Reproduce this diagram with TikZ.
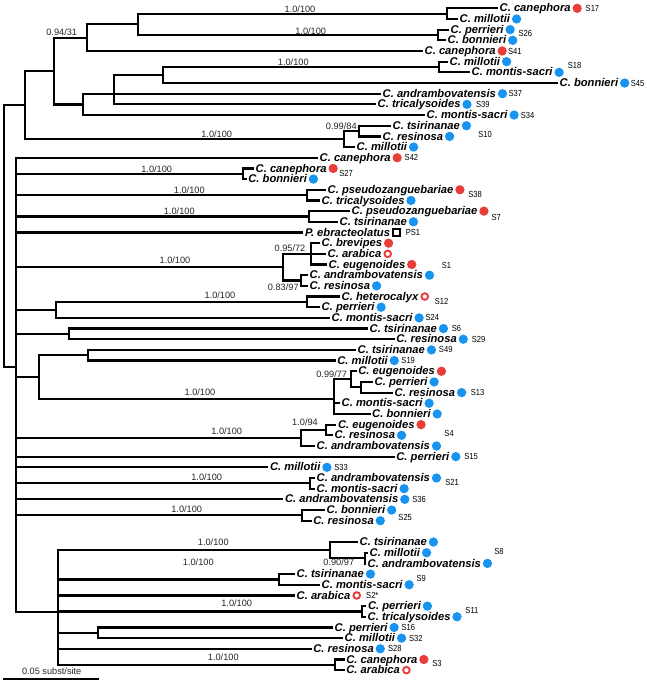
\documentclass[tikz,border=0pt]{standalone}
\usepackage{fontspec}
\setmainfont{Liberation Sans}
\definecolor{cblue}{RGB}{22,148,240}
\definecolor{cred}{RGB}{232,62,58}
\tikzset{
 br/.style={line width=2.2pt, line join=miter},
 lab/.style={anchor=base west, inner sep=0pt, xshift=1.5pt, font=\fontsize{11.2}{12}\selectfont\bfseries\itshape},
 bdot/.style={circle, fill=cblue, inner sep=0pt, minimum size=9.3pt},
 rdot/.style={circle, fill=cred, inner sep=0pt, minimum size=9.3pt},
 rring/.style={circle, draw=cred, fill=white, line width=1.9pt, inner sep=0pt, minimum size=6.6pt},
 bsq/.style={rectangle, draw=black, fill=white, line width=1.9pt, inner sep=0pt, minimum size=7pt},
 stag/.style={anchor=west, inner sep=0pt, xscale=0.86, font=\fontsize{8.8}{10}\selectfont},
 suplab/.style={inner sep=0pt, text=black!85, font=\fontsize{9.2}{10}\selectfont},
}
\newcommand\leaf[5]{%
  \coordinate (#1) at (#2,{8.3+10.675*#3});
  \node[lab] (#1-t) at ([yshift=-3.6pt]#1) {#4};
  \path (#1-t.east |- #1) ++(6.3pt,0pt) node[#5] (#1-m) {};
}
\newcommand\slab[4]{%
  \path (#1-m.center) ++(#2pt,#3pt) node[stag] (#1-s) {#4};
}
\newcommand\E[2]{\draw[br] (#1) |- (#2);}
\begin{document}
\begin{tikzpicture}[x=1pt,y=-1pt]
\useasboundingbox (0,0) rectangle (647,683);
% internal nodes
\coordinate (R) at (4,236);
\coordinate (A) at (25,105);
\coordinate (A1) at (54.3,71.0);
\coordinate (A11) at (86.7,37.66);
\coordinate (A111) at (137.7,24.31);
\coordinate (n1) at (447,13.64);
\coordinate (n2) at (438,34.99);
\coordinate (A12) at (82.7,104.4);
\coordinate (A121) at (114.3,93.7);
\coordinate (n3) at (162.7,75.02);
\coordinate (n4) at (439,67.01);
\coordinate (A2) at (344,139.07);
\coordinate (n5) at (359,131.06);
\coordinate (B) at (16,367);
\coordinate (c16) at (242.7,173.76);
\coordinate (c18) at (306.7,195.11);
\coordinate (c20) at (309.3,216.46);
\coordinate (c23) at (282.7,267.17);
\coordinate (c23a) at (310.7,253.825);
\coordinate (c23b) at (301,280.51);
\coordinate (c28) at (56,309.87);
\coordinate (c28a) at (307,301.86);
\coordinate (c31) at (69,333.89);
\coordinate (c33) at (39,377.03);
\coordinate (c33a) at (87.7,355.24);
\coordinate (c33b) at (334.3,398.83);
\coordinate (c33b1) at (350.7,379.26);
\coordinate (c33b1a) at (361,387.26);
\coordinate (c40) at (301,437.97);
\coordinate (c40a) at (325.7,429.96);
\coordinate (c45) at (310,483.34);
\coordinate (c48) at (301.7,515.36);
\coordinate (c50) at (58.3,611.82);
\coordinate (c50a) at (330.3,550.06);
\coordinate (c50a1) at (364.7,558.06);
\coordinate (c50b) at (279.3,579.41);
\coordinate (c50d) at (362.3,611.44);
\coordinate (c50e) at (98.3,632.79);
\coordinate (c50g) at (334.7,664.81);
% leaves
\leaf{L1}{498}{0}{C. canephora}{rdot}
\leaf{L2}{458}{1}{C. millotii}{bdot}
\leaf{L3}{449}{2}{C. perrieri}{bdot}
\leaf{L4}{446}{3}{C. bonnieri}{bdot}
\leaf{L5}{423}{4}{C. canephora}{rdot}
\leaf{L6}{448}{5}{C. millotii}{bdot}
\leaf{L7}{470}{6}{C. montis-sacri}{bdot}
\leaf{L8}{558}{7}{C. bonnieri}{bdot}
\leaf{L9}{381}{8}{C. andrambovatensis}{bdot}
\leaf{L10}{376}{9}{C. tricalysoides}{bdot}
\leaf{L11}{425}{10}{C. montis-sacri}{bdot}
\leaf{L12}{391}{11}{C. tsirinanae}{bdot}
\leaf{L13}{381}{12}{C. resinosa}{bdot}
\leaf{L14}{355}{13}{C. millotii}{bdot}
\leaf{L15}{318}{14}{C. canephora}{rdot}
\leaf{L16}{254}{15}{C. canephora}{rdot}
\leaf{L17}{246.7}{16}{C. bonnieri}{bdot}
\leaf{L18}{326}{17}{C. pseudozanguebariae}{rdot}
\leaf{L19}{320}{18}{C. tricalysoides}{bdot}
\leaf{L20}{350}{19}{C. pseudozanguebariae}{rdot}
\leaf{L21}{338}{20}{C. tsirinanae}{bdot}
\leaf{L22}{303.3}{21}{P. ebracteolatus}{bsq}
\leaf{L23}{320}{22}{C. brevipes}{rdot}
\leaf{L24}{326}{23}{C. arabica}{rring}
\leaf{L25}{327}{24}{C. eugenoides}{rdot}
\leaf{L26}{308}{25}{C. andrambovatensis}{bdot}
\leaf{L27}{308}{26}{C. resinosa}{bdot}
\leaf{L28}{340}{27}{C. heterocalyx}{rring}
\leaf{L29}{320}{28}{C. perrieri}{bdot}
\leaf{L30}{330}{29}{C. montis-sacri}{bdot}
\leaf{L31}{368}{30}{C. tsirinanae}{bdot}
\leaf{L32}{394.7}{31}{C. resinosa}{bdot}
\leaf{L33}{356}{32}{C. tsirinanae}{bdot}
\leaf{L34}{335.7}{33}{C. millotii}{bdot}
\leaf{L35}{356.7}{34}{C. eugenoides}{rdot}
\leaf{L36}{373}{35}{C. perrieri}{bdot}
\leaf{L37}{393}{36}{C. resinosa}{bdot}
\leaf{L38}{340}{37}{C. montis-sacri}{bdot}
\leaf{L39}{370.5}{38}{C. bonnieri}{bdot}
\leaf{L40}{336.3}{39}{C. eugenoides}{rdot}
\leaf{L41}{333}{40}{C. resinosa}{bdot}
\leaf{L42}{315}{41}{C. andrambovatensis}{bdot}
\leaf{L43}{394.7}{42}{C. perrieri}{bdot}
\leaf{L44}{268.3}{43}{C. millotii}{bdot}
\leaf{L45}{315}{44}{C. andrambovatensis}{bdot}
\leaf{L46}{315}{45}{C. montis-sacri}{bdot}
\leaf{L47}{283.3}{46}{C. andrambovatensis}{bdot}
\leaf{L48}{325}{47}{C. bonnieri}{bdot}
\leaf{L49}{311.7}{48}{C. resinosa}{bdot}
\leaf{L50}{358}{50}{C. tsirinanae}{bdot}
\leaf{L51}{368}{51}{C. millotii}{bdot}
\leaf{L52}{366}{52}{C. andrambovatensis}{bdot}
\leaf{L53}{295}{53}{C. tsirinanae}{bdot}
\leaf{L54}{320}{54}{C. montis-sacri}{bdot}
\leaf{L55}{295}{55}{C. arabica}{rring}
\leaf{L56}{366.3}{56}{C. perrieri}{bdot}
\leaf{L57}{366}{57}{C. tricalysoides}{bdot}
\leaf{L58}{333}{58}{C. perrieri}{bdot}
\leaf{L59}{343}{59}{C. millotii}{bdot}
\leaf{L60}{311.7}{60}{C. resinosa}{bdot}
\leaf{L61}{344.7}{61}{C. canephora}{rdot}
\leaf{L62}{344.7}{62}{C. arabica}{rring}
% sample tags
\slab{L1}{8.4}{0}{S17}
\slab{L3}{8.3}{-4.3}{S26}
\slab{L5}{5.7}{0}{S41}
\slab{L7}{8.6}{7}{S18}
\slab{L8}{6}{0}{S45}
\slab{L9}{6}{0}{S37}
\slab{L10}{9}{0}{S39}
\slab{L11}{6.6}{0}{S34}
\slab{L13}{28.6}{1.5}{S10}
\slab{L15}{7.4}{0}{S42}
\slab{L16}{6}{-5}{S27}
\slab{L18}{8.3}{-4.3}{S38}
\slab{L20}{7.6}{-6}{S7}
\slab{L22}{9}{0}{PS1}
\slab{L25}{30}{-1}{S1}
\slab{L28}{10}{-5}{S12}
\slab{L30}{6.4}{0}{S24}
\slab{L31}{8.3}{0}{S6}
\slab{L32}{8.4}{0}{S29}
\slab{L33}{7.4}{0}{S49}
\slab{L34}{7}{0}{S19}
\slab{L37}{9}{0}{S13}
\slab{L41}{42.7}{1.4}{S4}
\slab{L43}{8.3}{0}{S15}
\slab{L44}{7.3}{0}{S33}
\slab{L45}{8.7}{-4.7}{S21}
\slab{L47}{7.4}{0}{S36}
\slab{L48}{6.6}{-7.4}{S25}
\slab{L52}{6.6}{12.4}{S8}
\slab{L54}{7.4}{6.3}{S9}
\slab{L55}{9.3}{0}{S2*}
\slab{L57}{8.3}{6.7}{S11}
\slab{L58}{7.3}{0}{S16}
\slab{L59}{7.3}{0}{S32}
\slab{L60}{7.7}{0}{S28}
\slab{L61}{8.3}{-4.4}{S3}
% edges
\E{R}{A}\E{R}{B}
\E{A}{A1}\E{A}{A2}
\E{A1}{A11}\E{A1}{A12}
\E{A11}{A111}\E{A11}{L5}
\E{A111}{n1}\E{A111}{n2}
\E{n1}{L1}\E{n1}{L2}\E{n2}{L3}\E{n2}{L4}
\E{A12}{A121}\E{A12}{L11}
\E{A121}{n3}\E{A121}{L9}\E{A121}{L10}
\E{n3}{n4}\E{n3}{L8}
\E{n4}{L6}\E{n4}{L7}
\E{A2}{n5}\E{A2}{L14}
\E{n5}{L12}\E{n5}{L13}
\E{B}{L15}\E{B}{c16}\E{B}{c18}\E{B}{c20}\E{B}{L22}\E{B}{c23}\E{B}{c28}\E{B}{c31}
\E{B}{c33}\E{B}{c40}\E{B}{L43}\E{B}{L44}\E{B}{c45}\E{B}{L47}\E{B}{c48}\E{B}{c50}
\E{c16}{L16}\E{c16}{L17}
\E{c18}{L18}\E{c18}{L19}
\E{c20}{L20}\E{c20}{L21}
\E{c23}{c23a}\E{c23}{c23b}
\E{c23a}{L23}\E{c23a}{L24}\E{c23a}{L25}
\E{c23b}{L26}\E{c23b}{L27}
\E{c28}{c28a}\E{c28}{L30}
\E{c28a}{L28}\E{c28a}{L29}
\E{c31}{L31}\E{c31}{L32}
\E{c33}{c33a}\E{c33}{c33b}
\E{c33a}{L33}\E{c33a}{L34}
\E{c33b}{c33b1}\E{c33b}{L38}\E{c33b}{L39}
\E{c33b1}{L35}\E{c33b1}{c33b1a}
\E{c33b1a}{L36}\E{c33b1a}{L37}
\E{c40}{c40a}\E{c40}{L42}
\E{c40a}{L40}\E{c40a}{L41}
\E{c45}{L45}\E{c45}{L46}
\E{c48}{L48}\E{c48}{L49}
\E{c50}{c50a}\E{c50}{c50b}\E{c50}{L55}\E{c50}{c50d}\E{c50}{c50e}\E{c50}{L60}\E{c50}{c50g}
\E{c50a}{L50}\E{c50a}{c50a1}
\E{c50a1}{L51}\E{c50a1}{L52}
\E{c50b}{L53}\E{c50b}{L54}
\E{c50d}{L56}\E{c50d}{L57}
\E{c50e}{L58}\E{c50e}{L59}
\E{c50g}{L61}\E{c50g}{L62}
% support values
\node[suplab] (b1) at (300,9) {1.0/100};
\node[suplab] (b2) at (310.7,31) {1.0/100};
\node[suplab] (b3) at (293.3,62.7) {1.0/100};
\node[suplab] (b4) at (61.7,32.3) {0.94/31};
\node[suplab] (b5) at (216.7,134.3) {1.0/100};
\node[suplab] (b6) at (341.3,126) {0.99/84};
\node[suplab] (b7) at (156.7,169) {1.0/100};
\node[suplab] (b8) at (189.3,190.7) {1.0/100};
\node[suplab] (b9) at (179.3,211) {1.0/100};
\node[suplab] (b10) at (290,248.3) {0.95/72};
\node[suplab] (b11) at (175,260) {1.0/100};
\node[suplab] (b12) at (283.3,287.3) {0.83/97};
\node[suplab] (b13) at (220,295.3) {1.0/100};
\node[suplab] (b14) at (200,392.7) {1.0/100};
\node[suplab] (b15) at (331.7,374.7) {0.99/77};
\node[suplab] (b16) at (226.7,431) {1.0/100};
\node[suplab] (b17) at (305,422.7) {1.0/94};
\node[suplab] (b18) at (206.7,477) {1.0/100};
\node[suplab] (b19) at (186.7,509.3) {1.0/100};
\node[suplab] (b20) at (213.3,542.7) {1.0/100};
\node[suplab] (b21) at (338.8,562) {0.90/97};
\node[suplab] (b22) at (198.3,562.7) {1.0/100};
\node[suplab] (b23) at (236.7,603.7) {1.0/100};
\node[suplab] (b24) at (223.3,657.7) {1.0/100};
% scale bar
\coordinate (sb1) at (3.3,678.7);
\coordinate (sb2) at (99.3,678.7);
\draw[line width=2pt] (sb1) -- (sb2);
\node[suplab] (sbl) at (51.7,671.5) {0.05 subst/site};
\end{tikzpicture}
\end{document}
